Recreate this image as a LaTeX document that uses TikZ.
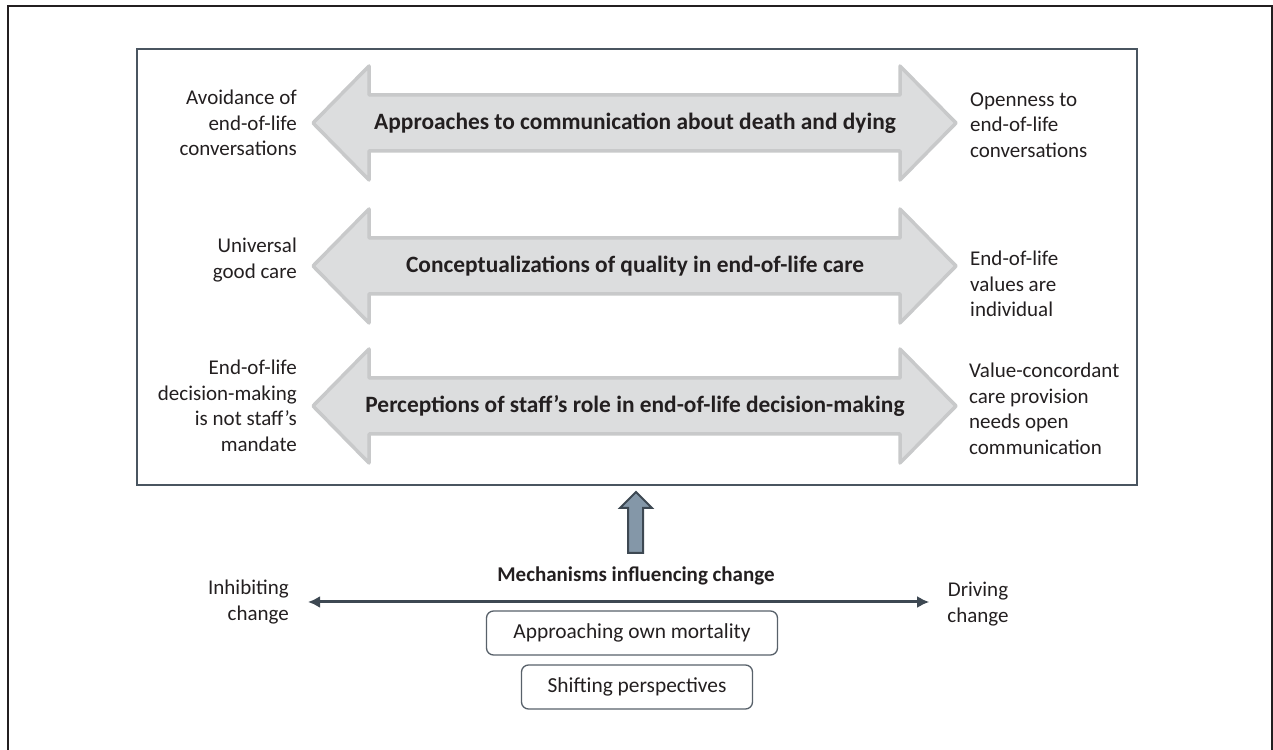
\documentclass[tikz,border=0pt]{standalone}
\usepackage{fontspec}
\setmainfont{Carlito}
\usetikzlibrary{arrows.meta}
\definecolor{ink}{HTML}{231F20}
\definecolor{frame}{HTML}{4A5560}
\definecolor{arrowfill}{HTML}{DCDDDE}
\definecolor{arrowline}{HTML}{C8C9CA}
\definecolor{slate}{HTML}{3D4852}
\definecolor{upfill}{HTML}{8497A8}
\definecolor{boxline}{HTML}{58616A}
\begin{document}
\begin{tikzpicture}[x=1pt,y=1pt,
    sidetext/.style={font=\fontsize{21}{25.5}\selectfont, inner sep=0pt, text=ink},
    lefttext/.style={sidetext, align=right, anchor=east},
    righttext/.style={sidetext, align=left, anchor=west},
    themetitle/.style={font=\fontsize{23.4}{28}\selectfont\bfseries, text=ink},
    mechtitle/.style={font=\fontsize{21}{25}\selectfont\bfseries, text=ink},
    themearrow/.style={fill=arrowfill, draw=arrowline, line width=3.5pt, line join=round},
    factor/.style={draw=boxline, line width=1.3pt, rounded corners=7pt, minimum height=44pt,
      font=\fontsize{21.4}{25}\selectfont, text=ink}]
  \useasboundingbox (0,0) rectangle (1273,749);
  % outer frame and theme box
  \draw[line width=2pt, ink] (8,-5) -- (8,743) -- (1272,743) -- (1272,-5);
  \draw[line width=2pt, frame] (137,264) rectangle (1137,700);
  % the three themes
  \foreach \y in {626,483,343}
    \draw[themearrow] (313,\y) -- (369,\y+57) -- (369,\y+28) -- (900,\y+28) -- (900,\y+57)
      -- (956,\y) -- (900,\y-57) -- (900,\y-28) -- (369,\y-28) -- (369,\y-57) -- cycle;
  \node[themetitle] (comm) at (635,626) {Approaches to communication about death and dying};
  \node[themetitle] (quality) at (635,483) {Conceptualizations of quality in end-of-life care};
  \node[themetitle] (role) at (635,343) {Perceptions of staff’s role in end-of-life decision-making};
  \node[lefttext] (avoid) at (297,626) {Avoidance of\\end-of-life\\conversations};
  \node[righttext] (open) at (970,624) {Openness to\\end-of-life\\conversations};
  \node[lefttext] (univ) at (297,489) {Universal\\good care};
  \node[righttext] (indiv) at (970,465) {End-of-life\\values are\\individual};
  \node[lefttext] (notmandate) at (297,343) {End-of-life\\decision-making\\is not staff’s\\mandate};
  \node[righttext] (concord) at (969,340) {Value-concordant\\care provision\\needs open\\communication};
  % mechanisms
  \draw[fill=upfill, draw=slate, line width=2pt, line join=miter]
    (628,196) -- (628,241) -- (620,241) -- (636,257) -- (652,241) -- (643,241) -- (643,196) -- cycle;
  \node[mechtitle] (mech) at (636,173) {Mechanisms influencing change};
  \node[lefttext] (inhib) at (289,147) {Inhibiting\\change};
  \node[sidetext, align=center] (driv) at (978,145) {Driving\\change};
  \draw[{Latex[length=12pt,width=12pt]}-{Latex[length=12pt,width=12pt]}, slate, line width=3pt,
    shorten <=19pt, shorten >=18pt] (inhib.east) -- (inhib.east -| driv.west);
  \node[factor, minimum width=291pt] (mortal) at (632,116) {Approaching own mortality};
  \node[factor, minimum width=231pt] (shift) at (637,62) {Shifting perspectives};
\end{tikzpicture}
\end{document}
